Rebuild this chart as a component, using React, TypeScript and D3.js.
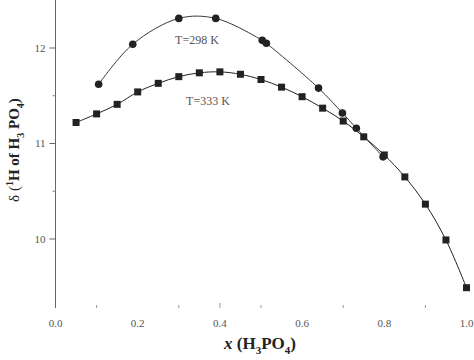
import * as d3 from "d3";

// T = 333 K (squares)
const xs333 = [0.05, 0.1, 0.15, 0.2, 0.25, 0.3, 0.35, 0.4, 0.45, 0.5, 0.55, 0.6, 0.65, 0.7, 0.75, 0.8, 0.85, 0.9, 0.95, 1.0];
const ys333 = [11.22, 11.31, 11.41, 11.54, 11.63, 11.70, 11.74, 11.75, 11.725, 11.67, 11.59, 11.49, 11.37, 11.235, 11.07, 10.88, 10.65, 10.365, 9.99, 9.49];

// T = 298 K (circles)
const xs298 = [0.105, 0.188, 0.3, 0.39, 0.503, 0.513, 0.64, 0.698, 0.732, 0.797];
const ys298 = [11.62, 12.04, 12.31, 12.31, 12.08, 12.05, 11.58, 11.32, 11.16, 10.86];

const xTicks = [0, 0.2, 0.4, 0.6, 0.8, 1.0];
const xMinor = [0.1, 0.3, 0.4, 0.5, 0.7, 0.9];
const yTicks = [10, 11, 12];
const yMinor = [10.5, 11.5];

const W = 474;
const H = 360;
const ink = "#222";
const serif = "'Liberation Serif', 'DejaVu Serif', serif";

export default function App() {
    const x = d3.scaleLinear([0, 1], [55.5, 466.5]);
    const y = d3.scaleLinear([10, 12], [239, 48]);
    const axisX = 55.5;
    const axisBottom = 308;

    const d333 = xs333.map((v, i) => [v, ys333[i]]);
    const d298 = xs298.map((v, i) => [v, ys298[i]]);
    const line = d3.line((d) => x(d[0]), (d) => y(d[1])).curve(d3.curveCatmullRom);

    return (
        <svg width={W} height={H} style={{ position: "absolute", left: 0, top: 0, background: "#fff" }} fontFamily={serif}>
            {/* y axis */}
            <line x1={axisX} x2={axisX} y1={0} y2={axisBottom} stroke="#666" strokeWidth={1} />
            {yTicks.map((t) => (
                <g key={t}>
                    <line x1={axisX - 6} x2={axisX} y1={y(t)} y2={y(t)} stroke="#666" />
                    <text x={axisX - 10} y={y(t)} dy="0.35em" textAnchor="end" fontSize={11} fill="#555">{t}</text>
                </g>
            ))}
            {yMinor.map((t) => (
                <line key={t} x1={axisX - 3} x2={axisX} y1={y(t)} y2={y(t)} stroke="#888" />
            ))}
            {/* x ticks */}
            {xMinor.map((t) => (
                <line key={t} x1={x(t)} x2={x(t)} y1={axisBottom - (t === 0.4 ? 5 : 3)} y2={axisBottom} stroke="#999" />
            ))}
            {xTicks.map((t) => (
                <text key={t} x={x(t)} y={323} dy="0.35em" textAnchor="middle" fontSize={11} fill="#555">{t.toFixed(1)}</text>
            ))}

            {/* curves */}
            <path d={line(d298)} fill="none" stroke={ink} strokeWidth={0.9} />
            <path d={line(d333)} fill="none" stroke={ink} strokeWidth={1} />
            {d298.map((d, i) => (
                <circle key={i} cx={x(d[0])} cy={y(d[1])} r={3.8} fill={ink} />
            ))}
            {d333.map((d, i) => (
                <rect key={i} x={x(d[0]) - 3.5} y={y(d[1]) - 3.5} width={7} height={7} fill={ink} />
            ))}

            {/* annotations */}
            <text x={197} y={40} dy="0.35em" textAnchor="middle" fontSize={12} fill="#555">T=298 K</text>
            <text x={208} y={101} dy="0.35em" textAnchor="middle" fontSize={12} fill="#555">T=333 K</text>

            {/* axis titles */}
            <text x={260} y={349} textAnchor="middle" fontSize={17} fontWeight="bold" fill="#222">
                <tspan fontStyle="italic">x</tspan> (H<tspan fontSize={11} dy={5}>3</tspan><tspan dy={-5}>PO</tspan><tspan fontSize={11} dy={5}>4</tspan><tspan dy={-5}>)</tspan>
            </text>
            <text transform="translate(19,150) rotate(-90)" textAnchor="middle" fontSize={15} fontWeight="bold" fill="#222">
                <tspan fontWeight="normal">δ (</tspan><tspan fontSize={10} dy={-6}>1</tspan><tspan dy={6}>H of H</tspan><tspan fontSize={10} dy={5}>3</tspan><tspan dy={-5}> PO</tspan><tspan fontSize={10} dy={5}>4</tspan><tspan dy={-5}>)</tspan>
            </text>
        </svg>
    );
}
